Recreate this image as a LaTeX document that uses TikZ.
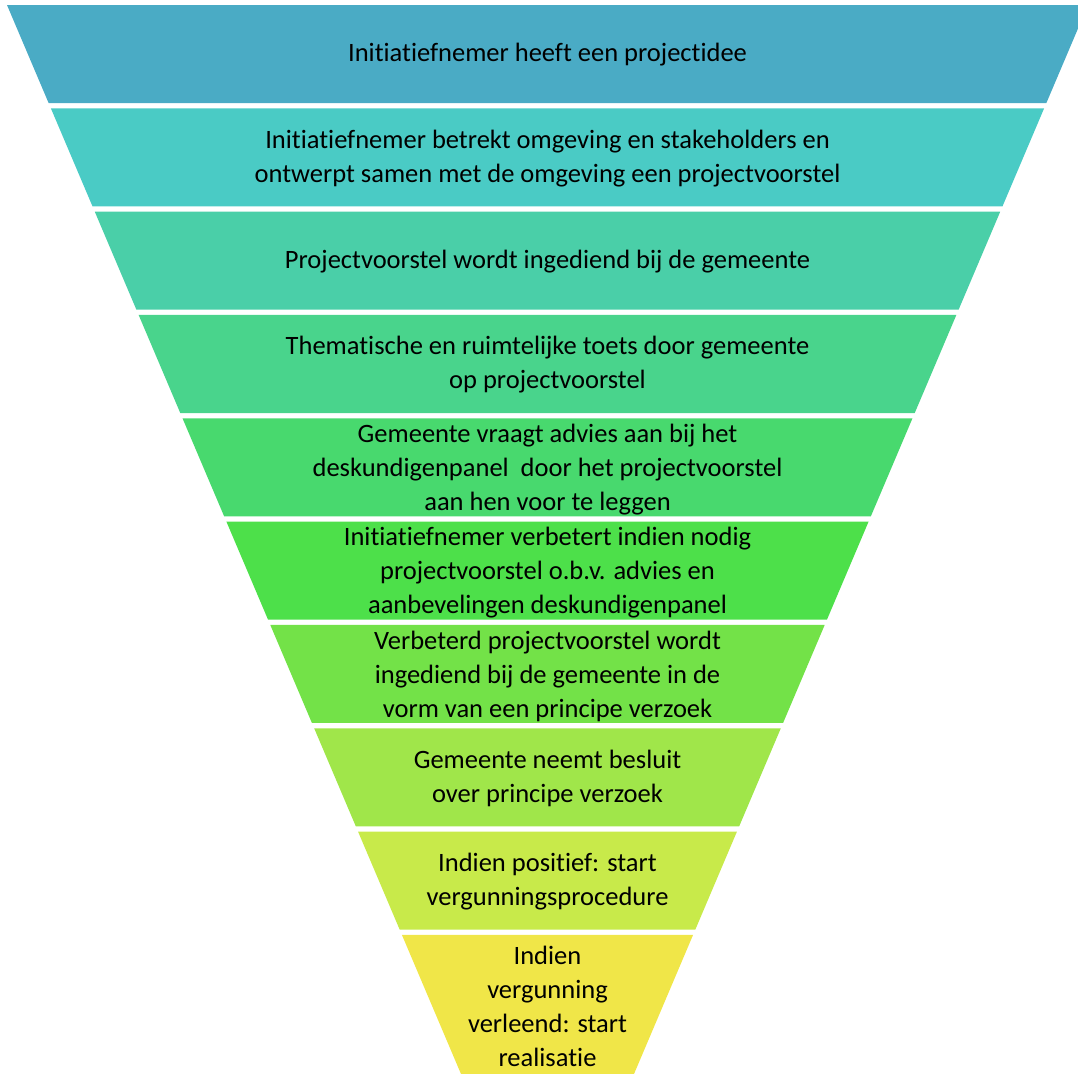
\documentclass[tikz,border=0pt]{standalone}
\usepackage{fontspec}
\setmainfont[Ligatures=NoCommon]{Carlito}
\definecolor{lay1}{HTML}{4AABC5}
\definecolor{lay2}{HTML}{4ACBC5}
\definecolor{lay3}{HTML}{4ACFA8}
\definecolor{lay4}{HTML}{49D48C}
\definecolor{lay5}{HTML}{48D96E}
\definecolor{lay6}{HTML}{4DE04A}
\definecolor{lay7}{HTML}{73E248}
\definecolor{lay8}{HTML}{A0E64A}
\definecolor{lay9}{HTML}{C8EA4A}
\definecolor{lay10}{HTML}{F0E648}
\tikzset{
  steptext/.style={align=center, font=\fontsize{13.25pt}{17pt}\selectfont, text=black, inner sep=0pt}
}
\begin{document}
\begin{tikzpicture}[x=0.5pt, y=-0.5pt]
\useasboundingbox (0,0) rectangle (1078,1073);
\clip (0,0) rectangle (1078,1073);
	% funnel layers
	\foreach \i/\c in {0/lay1,1/lay2,2/lay3,3/lay4,4/lay5,5/lay6,6/lay7,7/lay8,8/lay9,9/lay10}
	{
		\pgfmathsetmacro\t{5+103.33*\i}
		\pgfmathsetmacro\b{\i==9 ? 1085 : \t+98}
		\fill[\c] ({7+0.4247*(\t-5)},\t) -- ({1088-0.4247*(\t-5)},\t)
		  -- ({1088-0.4247*(\b-5)},\b) -- ({7+0.4247*(\b-5)},\b) -- cycle;
	}

\node[steptext] (idee) at (547.5,55) {Initiatiefnemer heeft een projectidee};
\node[steptext] (omgeving) at (547.5,158.3) {Initiatiefnemer betrekt omgeving en stakeholders en\\ontwerpt samen met de omgeving een projectvoorstel};
\node[steptext] (indienen) at (547.5,261.7) {Projectvoorstel wordt ingediend bij de gemeente};
\node[steptext] (toets) at (547.5,365) {Thematische en ruimtelijke toets door gemeente\\op projectvoorstel};
\node[steptext] (advies) at (547.5,469.3) {Gemeente vraagt advies aan bij het\\deskundigenpanel\ \ door het projectvoorstel\\aan hen voor te leggen};
\node[steptext] (verbeter) at (547.5,572.7) {Initiatiefnemer verbetert indien nodig\\projectvoorstel o.b.v. advies en\\aanbevelingen deskundigenpanel};
\node[steptext] (verzoek) at (547.5,676) {Verbeterd projectvoorstel wordt\\ingediend bij de gemeente in de\\vorm van een principe verzoek};
\node[steptext] (besluit) at (547.5,778.3) {Gemeente neemt besluit\\over principe verzoek};
\node[steptext] (procedure) at (547.5,881.7) {Indien positief: start\\vergunningsprocedure};
\node[steptext] (realisatie) at (547.5,1006) {Indien\\vergunning\\verleend: start\\realisatie};
    \end{tikzpicture}
\end{document}
